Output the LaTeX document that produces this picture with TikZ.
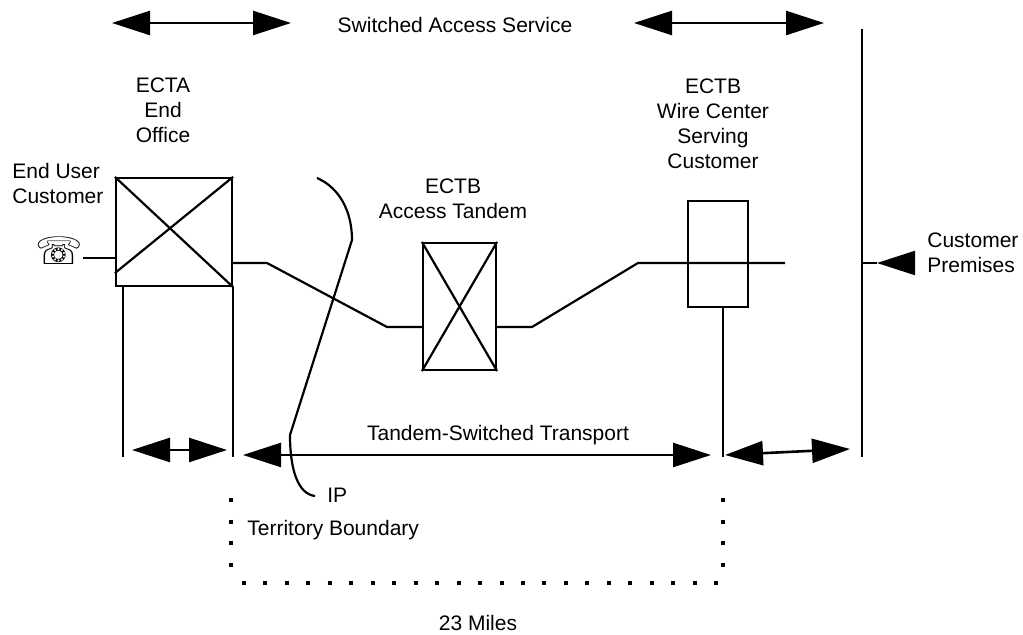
\documentclass[tikz,border=0pt]{standalone}
\usepackage{fontspec}
\setmainfont{Liberation Sans}
\newfontfamily\phonefont{DejaVu Sans}
\usetikzlibrary{arrows.meta}

\tikzset{
  wire/.style={line width=1.1pt},
  span/.style={line width=1.3pt, {Triangle[length=19pt,width=12pt]}-{Triangle[length=19pt,width=12pt]}},
  switchbox/.style={draw, line width=1.1pt, inner sep=0pt},
  lbl/.style={inner sep=0pt, font=\fontsize{10.5}{12.5}\selectfont},
  dots/.style={line width=2pt, dash pattern=on 2pt off 8.8pt}
}

\begin{document}
\begin{tikzpicture}[x=0.5pt, y=-0.5pt]
    \useasboundingbox (0,0) rectangle (1023,635);

    % top spans
    \coordinate (sa1) at (112,23);
    \coordinate (sa2) at (291,23);
    \coordinate (sa3) at (634,23);
    \coordinate (sa4) at (824,23);
    \draw[span] (sa1) -- (sa2);
    \draw[span] (sa3) -- (sa4);
    \node[lbl, anchor=north] (sas) at (455,17) {Switched Access Service};

    % switches
    \node[switchbox, minimum width=58pt, minimum height=54pt] (eo) at (174,232) {};
    \draw[wire] (eo.north west) -- (eo.south east);
    \draw[wire] (eo.north east) -- ([yshift=7pt]eo.south west);
    \node[lbl, anchor=north, align=center] (eotxt) at (163,77) {ECTA\\End\\Office};

    \node[switchbox, minimum width=36.5pt, minimum height=63.5pt] (at) at (459.5,306.5) {};
    \draw[wire] (at.north west) -- (at.south east);
    \draw[wire] (at.north east) -- (at.south west);
    \node[lbl, anchor=north, align=center] (attxt) at (453,178) {ECTB\\Access Tandem};

    \node[switchbox, minimum width=30pt, minimum height=53pt] (wc) at (718,254) {};
    \node[lbl, anchor=north, align=center] (wctxt) at (713,78) {ECTB\\Wire Center\\Serving\\Customer};

    % end user
    \node[inner sep=0pt, font=\phonefont\fontsize{19}{19}\selectfont] (ph) at (59,251) {☏};
    \node[lbl, anchor=north west, align=left] (eu) at (12,163) {End User\\Customer};
    \coordinate (p1) at (83,258);
    \draw[wire] (p1) -- (p1 -| eo.west);

    % trunks
    \coordinate (b1) at (267,263);
    \coordinate (b2) at (387,327);
    \coordinate (b3) at (532,327);
    \coordinate (b4) at (638,263);
    \coordinate (wend) at (785,263);
    \draw[wire] (b1 -| eo.east) -- (b1) -- (b2) -- (b2 -| at.west);
    \draw[wire] (b3 -| at.east) -- (b3) -- (b4) -- (wend);

    % drops
    \coordinate (l1) at (123,457);
    \coordinate (l3) at (723,457);
    \draw[wire] (l1 |- eo.south) -- (l1);
    \draw[wire] (eo.south east) -- (eo.south east |- l1);
    \draw[wire] (l3 |- wc.south) -- (l3);

    % customer premises
    \coordinate (cpt) at (862,29);
    \coordinate (cpb) at (862,457);
    \draw[wire] (cpt) -- (cpb);
    \coordinate (cpa) at (915,263);
    \coordinate (cptip) at (877,263);
    \draw[line width=1.1pt, -{Triangle[length=19pt,width=12pt]}] (cpa) -- (cptip);
    \draw[wire] (cptip) -- (cptip -| cpt);
    \node[lbl, anchor=north west, align=left] (cp) at (927,232) {Customer\\Premises};

    % bottom spans
    \draw[span] (132,450) coordinate (s1) -- (227,450) coordinate (s2);
    \draw[span] (243,455) coordinate (t1) -- (711,455) coordinate (t2);
    \draw[span] (725,455) coordinate (u1) -- (850,449) coordinate (u2);
    \node[lbl, anchor=north] (tst) at (498,425) {Tandem-Switched Transport};

    % IP bracket
    \coordinate (ip1) at (317,178);
    \coordinate (ip2) at (352,240);
    \coordinate (ip3) at (290,435);
    \coordinate (ip4) at (315,496);
    \draw[wire] (ip1) .. controls (340,188) and (352,212) .. (ip2) -- (ip3)
        .. controls (290,470) and (298,494) .. (ip4);
    \node[lbl, anchor=north west] (ip) at (327,488) {IP};

    % territory boundary
    \draw[dots] (231,498) -- (231,568);
    \draw[dots] (723,498) -- (723,568);
    \draw[dots, dash pattern=on 2pt off 8.73pt] (242,583) -- (719,583);
    \node[lbl, anchor=north west] (tb) at (247,520) {Territory Boundary};
    \node[lbl, anchor=north] (mi) at (478,615) {23 Miles};
\end{tikzpicture}
\end{document}
